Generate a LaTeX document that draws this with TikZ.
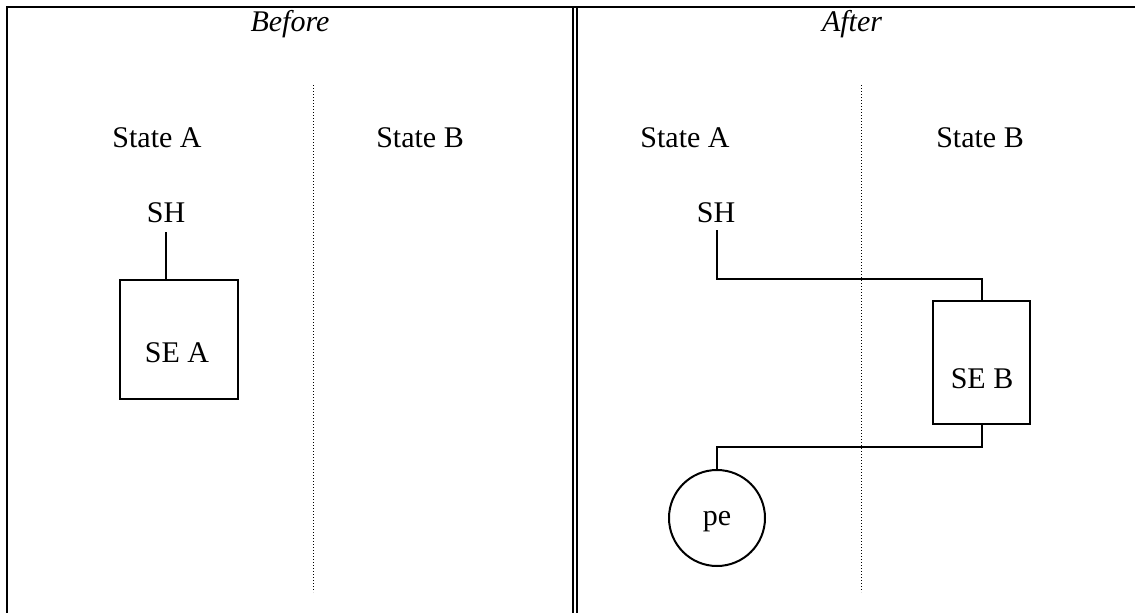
\documentclass[tikz,border=0pt]{standalone}
\usepackage{fontspec}
\setmainfont{Liberation Serif}
\begin{document}
\begin{tikzpicture}[x=1pt,y=-1pt,
  frame/.style={line width=2.5pt},
  sep/.style={line width=1pt,dotted},
  lbl/.style={font=\fontsize{30}{34}\selectfont, inner sep=0pt},
  hdr/.style={font=\fontsize{30}{34}\selectfont\itshape, inner sep=0pt, anchor=base},
  boxnode/.style={draw, line width=2pt, minimum width=118pt, minimum height=119pt},
  ring/.style={draw, circle, line width=2pt, minimum size=96pt, inner sep=0pt},
  wire/.style={line width=2pt}]
\useasboundingbox (0,0) rectangle (1135,613);
% frame
\draw[frame] (7,613) -- (7,7) -- (1135,7);
\draw[line width=1.8pt] (573,7) -- (573,613);
\draw[line width=1.8pt] (577,7) -- (577,613);
% headers
\node[hdr] (before) at (290,31) {Before};
\node[hdr] (after) at (852,31) {After};
% separators
\coordinate (d1t) at (313,85); \coordinate (d1b) at (313,592);
\coordinate (d2t) at (861,85); \coordinate (d2b) at (861,592);
\draw[sep] (d1t) -- (d1b);
\draw[sep] (d2t) -- (d2b);
% state labels
\node[lbl, anchor=base] (sa1) at (157,147) {State A};
\node[lbl, anchor=base] (sb1) at (420,147) {State B};
\node[lbl, anchor=base] (sa2) at (685,147) {State A};
\node[lbl, anchor=base] (sb2) at (980,147) {State B};
% before
\node[lbl, anchor=base] (sh1) at (166,222) {SH};
\node[boxnode] (sea) at (179,339.5) {};
\node[lbl, anchor=base] (seat) at (177,362) {SE A};
\draw[wire] (166,232) -- (sea.north -| 166,0);
% after
\node[lbl, anchor=base] (sh2) at (716,222) {SH};
\node[boxnode, minimum width=97pt, minimum height=123pt] (seb) at (981.5,362) {};
\node[lbl, anchor=base] (sebt) at (982,388) {SE B};
\node[ring] (pe) at (717,518) {};
\node[lbl, anchor=base] (pet) at (717,525) {pe};
\draw[wire] (717,230) |- (982,279) -- (seb.north -| 982,0);
\draw[wire] (seb.south -| 982,0) |- (717,447) -- (pe.north);
\end{tikzpicture}
\end{document}
